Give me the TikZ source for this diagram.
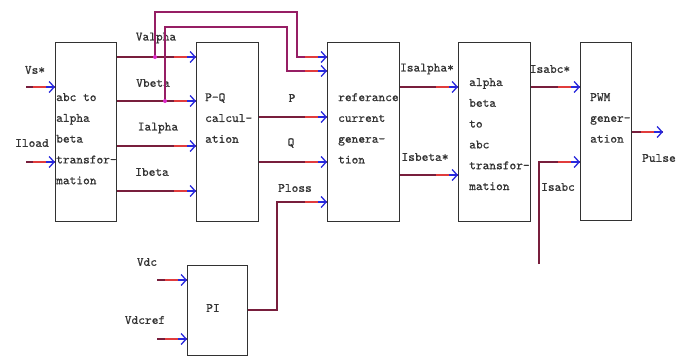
\documentclass[tikz,border=0pt]{standalone}
\usepackage{fontspec}
\newfontfamily\boxfont[FakeBold=0.7]{lmmono10-regular.otf}
\usetikzlibrary{arrows.meta,calc}
\definecolor{wirec}{RGB}{120,30,60}
\definecolor{tipred}{RGB}{225,60,60}
\definecolor{tipblue}{RGB}{40,40,220}
\definecolor{fbc}{RGB}{150,30,100}
\definecolor{dotc}{RGB}{220,40,200}
\definecolor{boxc}{RGB}{50,50,50}
\newcommand\tipat[1]{%
  \draw[redseg] ($(#1)+(-22,0)$) -- ($(#1)+(-8,0)$);
  \draw[blueseg] ($(#1)+(-9,0)$) -- (#1);}
\begin{document}
\begin{tikzpicture}[x=1pt,y=-1pt,
  blk/.style={draw=boxc,line width=1.3pt,inner sep=0pt,anchor=north west},
  wire/.style={draw=wirec,line width=1.6pt},
  fb/.style={draw=fbc,line width=1.6pt},
  lbl/.style={font=\boxfont\fontsize{12.8}{20.8}\selectfont,inner sep=0pt,text=black!80},
  btext/.style={lbl,align=left,anchor=north west},
  redseg/.style={draw=tipred,line width=1.6pt},
  blueseg/.style={draw=tipblue,line width=1.6pt,-{Straight Barb[length=5pt,width=11pt,line width=1.3pt]}},
  jdot/.style={circle,fill=dotc,inner sep=0pt,minimum size=4pt},
]
\useasboundingbox (0,0) rectangle (688,356);

% blocks
\node[blk,minimum width=61pt,minimum height=179pt] (b1) at (55,42) {};
\node[blk,minimum width=62pt,minimum height=179pt] (b2) at (196,42) {};
\node[blk,minimum width=72pt,minimum height=179pt] (b3) at (327,42) {};
\node[blk,minimum width=72pt,minimum height=179pt] (b4) at (458,42) {};
\node[blk,minimum width=51pt,minimum height=178pt] (b5) at (580,42) {};
\node[blk,minimum width=60pt,minimum height=90pt] (pi) at (187,265) {};

% block texts
\node[btext] (t1) at (56,93) {abc to\\alpha\\beta\\transfor-\\mation};
\node[btext] (t2) at (205,93) {P-Q\\calcul-\\ation};
\node[btext] (t3) at (338,93) {referance\\current\\genera-\\tion};
\node[btext] (t4) at (469,78) {alpha\\beta\\to\\abc\\transfor-\\mation};
\node[btext] (t5) at (590,93) {PWM\\gener-\\ation};
\node[lbl] (tpi) at (213,308) {PI};

% labels
\node[lbl] (lvs) at (35,70) {Vs*};
\node[lbl] (lil) at (32,143) {Iload};
\node[lbl] (lva) at (156,38) {Valpha};
\node[lbl] (lvb) at (153,83) {Vbeta};
\node[lbl] (lia) at (158,128) {Ialpha};
\node[lbl] (lib) at (152,172) {Ibeta};
\node[lbl] (lp) at (292,98) {P};
\node[lbl] (lq) at (291,143) {Q};
\node[lbl] (lpl) at (295,188) {Ploss};
\node[lbl] (lisa) at (427,69) {Isalpha*};
\node[lbl] (lisb) at (425,157) {Isbeta*};
\node[lbl] (lisabcs) at (550,69) {Isabc*};
\node[lbl] (lisabc) at (558,187) {Isabc};
\node[lbl] (lpulse) at (659,158) {Pulse};
\node[lbl] (lvdc) at (147,262) {Vdc};
\node[lbl] (lvdcr) at (145,320) {Vdcref};

% coordinates
\coordinate (vs0) at (26,87);
\coordinate (il0) at (26,162);
\coordinate (vdc0) at (157,280);
\coordinate (vdcr0) at (157,339);
\coordinate (isabc0) at (539,264);
\coordinate (pulse1) at (663,132);
\coordinate (ja) at (155,57);
\coordinate (jb) at (165,101);

\coordinate (i1a) at (b1.west|-0,87);
\coordinate (i1b) at (b1.west|-0,162);
\coordinate (i2a) at (b2.west|-0,57);
\coordinate (i2b) at (b2.west|-0,101);
\coordinate (i2c) at (b2.west|-0,146);
\coordinate (i2d) at (b2.west|-0,191);
\coordinate (i3a) at (b3.west|-0,57);
\coordinate (i3b) at (b3.west|-0,71);
\coordinate (i3c) at (b3.west|-0,117);
\coordinate (i3d) at (b3.west|-0,162);
\coordinate (i3e) at (b3.west|-0,202);
\coordinate (i4a) at (b4.west|-0,87);
\coordinate (i4b) at (b4.west|-0,175);
\coordinate (i5a) at (b5.west|-0,87);
\coordinate (i5b) at (b5.west|-0,162);
\coordinate (ipa) at (pi.west|-0,280);
\coordinate (ipb) at (pi.west|-0,339);

% wires
\draw[wire] (vs0) -- (i1a); \tipat{i1a}
\draw[wire] (il0) -- (i1b); \tipat{i1b}
\draw[wire] (b1.east|-i2a) -- (i2a); \tipat{i2a}
\draw[wire] (b1.east|-i2b) -- (i2b); \tipat{i2b}
\draw[wire] (b1.east|-i2c) -- (i2c); \tipat{i2c}
\draw[wire] (b1.east|-i2d) -- (i2d); \tipat{i2d}
\draw[fb] (ja) -- (155,12) -- (297,12) -- (297,57) -- (i3a); \tipat{i3a}
\draw[fb] (jb) -- (165,27) -- (287,27) -- (287,71) -- (i3b); \tipat{i3b}
\node[jdot] at (ja) {};
\node[jdot] at (jb) {};
\draw[wire] (b2.east|-i3c) -- (i3c); \tipat{i3c}
\draw[wire] (b2.east|-i3d) -- (i3d); \tipat{i3d}
\draw[wire] (pi.east|-0,310) -- (277,310) -- (277,202) -- (i3e); \tipat{i3e}
\draw[wire] (b3.east|-i4a) -- (i4a); \tipat{i4a}
\draw[wire] (b3.east|-i4b) -- (i4b); \tipat{i4b}
\draw[wire] (b4.east|-i5a) -- (i5a); \tipat{i5a}
\draw[wire] (isabc0) -- (539,162) -- (i5b); \tipat{i5b}
\draw[wire] (b5.east|-pulse1) -- (pulse1); \tipat{pulse1}
\draw[wire] (vdc0) -- (ipa); \tipat{ipa}
\draw[wire] (vdcr0) -- (ipb); \tipat{ipb}
\end{tikzpicture}
\end{document}
